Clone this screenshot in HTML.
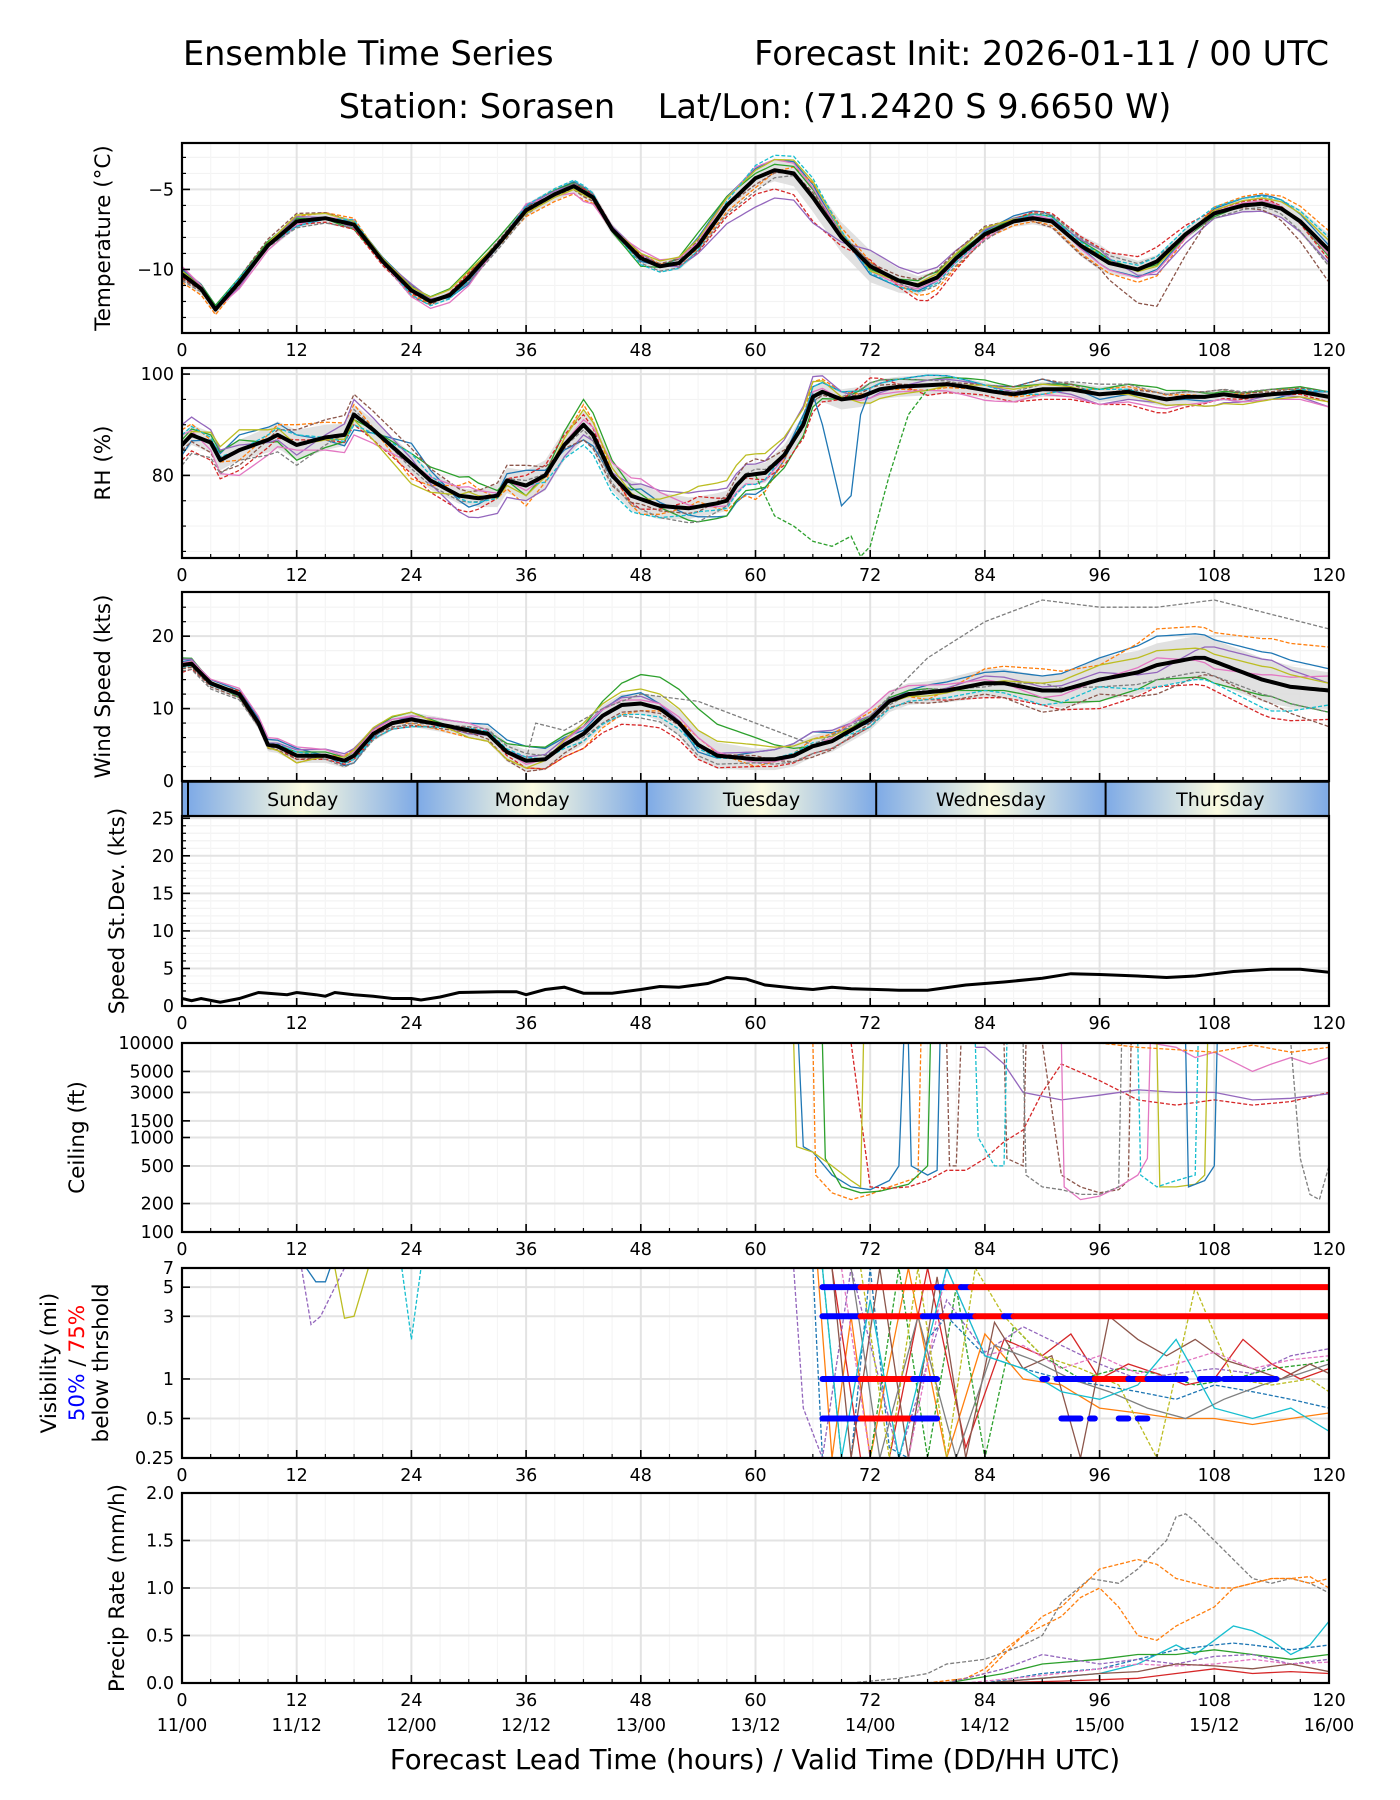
<!DOCTYPE html>
<html><head><meta charset="utf-8">
<style>
html,body{margin:0;padding:0;background:#fff;}
svg{display:block;font-family:"DejaVu Sans","Liberation Sans",sans-serif;}
</style></head>
<body>
<svg id="chart" xmlns="http://www.w3.org/2000/svg" width="1400" height="1800" viewBox="0 0 1400 1800">
<defs>
<linearGradient id="dayGrad" x1="0" x2="1" y1="0" y2="0">
<stop offset="0" stop-color="#7eaae6"/><stop offset="0.5" stop-color="#fbfbe0"/><stop offset="1" stop-color="#7eaae6"/>
</linearGradient>
</defs>
<text x="183" y="65" font-size="33.5">Ensemble Time Series</text>
<text x="1329" y="65" font-size="33.5" text-anchor="end">Forecast Init: 2026-01-11 / 00 UTC</text>
<text x="755" y="118" font-size="33.5" text-anchor="middle">Station: Sorasen&#160;&#160;&#160;&#160;Lat/Lon: (71.2420 S 9.6650 W)</text>
<g id="plots"></g>
</svg>
<script>
// ---------- data ----------
const memHours=[0,6,12,18,24,30,36,42,48,54,60,66,72,78,84,90,96,102,108,114,120];
const tHours=[0,2,3.5,6,9,12,15,18,21,24,26,28,30,33,36,39,41,43,45,48,50,52,54,57,60,62,64,66,69,72,75,77,79,81,84,87,89,91,94,97,100,102,105,108,111,113,115,117,120];
const tMean=[-10.3,-11.2,-12.5,-10.8,-8.5,-7.0,-6.8,-7.2,-9.5,-11.3,-12.0,-11.6,-10.5,-8.5,-6.3,-5.3,-4.8,-5.5,-7.5,-9.3,-9.8,-9.6,-8.5,-6.0,-4.3,-3.8,-4.0,-5.5,-8.0,-9.8,-10.7,-11.0,-10.5,-9.3,-7.8,-7.0,-6.8,-7.0,-8.5,-9.6,-10.0,-9.5,-7.8,-6.5,-6.0,-5.9,-6.2,-7.0,-8.8];
const tSpread=[0.4,0.3,0.4,0.3,0.3,0.3,0.4,0.4,0.3,0.5,0.6,0.9,1.0,0.5,0.3,0.4,0.8,0.4,0.3,0.5,1.0];
const tMemberOffsets=[
[0.3,0.2,-0.3,0.2,0.3,-0.4,0.2,0.3,-0.2,0.5,0.6,0.8,-0.5,-0.3,0.2,0.5,-0.4,-0.5,0.3,0.6,0.3],
[-0.5,-0.2,0.3,0.4,-0.3,0.2,-0.4,-0.5,0.3,-0.2,-0.6,0.9,0.3,-0.8,-0.3,-0.2,-0.6,-0.9,0.4,0.7,1.2],
[0.2,0.3,0.2,-0.3,0.2,0.5,0.3,0.2,-0.5,0.8,0.3,0.5,-0.2,0.4,0.1,0.3,0.3,-0.2,-0.2,0.2,-0.4],
[-0.2,0.1,-0.2,-0.3,-0.2,0.3,-0.2,0.2,0.2,-0.4,-1.0,-1.5,0.4,-1.2,-0.2,0.5,0.6,0.9,0.2,0.3,-0.6],
[0.4,-0.3,0.3,-0.2,0.4,-0.3,0.3,0.1,0.3,-0.5,-1.8,-1.6,1.0,0.7,0.3,0.1,0.5,-0.8,-0.3,-0.5,-0.8],
[-0.3,0.3,0.5,0.2,-0.4,0.2,0.2,-0.3,0.1,0.3,-0.4,0.3,0.2,0.4,0.5,-0.3,-0.7,-2.8,0.2,-0.5,-2.0],
[0.5,-0.4,-0.2,0.3,-0.4,-0.5,0.4,-0.6,0.5,0.2,0.7,0.6,-0.3,-0.2,-0.3,0.2,-0.4,-0.6,0.1,0.2,-0.3],
[-0.4,0.2,-0.4,-0.2,0.3,-0.3,-0.3,0.3,-0.3,-0.3,-0.8,0.2,0.2,-0.5,-0.4,0.4,0.5,0.3,-0.3,-0.2,-1.0],
[0.2,-0.1,0.4,0.2,0.2,0.4,-0.2,-0.2,0.3,0.4,0.5,1.0,-0.3,0.2,0.4,-0.1,0.2,-0.3,0.2,0.4,0.6],
[-0.1,0.3,-0.3,0.3,-0.3,-0.2,0.3,0.4,-0.4,-0.3,0.8,1.2,-0.4,-0.4,-0.1,0.3,0.2,0.3,0.4,0.5,0.8]];

const rHours=[0,1,3,4,6,9,10,12,15,17,18,20,23,26,29,31,33,34,36,38,40,42,43,45,47,50,53,56,57,58,59,61,63,65,66,67,69,71,73,75,80,82,85,87,90,93,96,99,103,105,107,109,111,114,117,120];
const rMean=[86,88,86.5,83,85,87,88,86,87.5,88,92,89,84,79,76,75.5,76,79,78,80,86,90,88,80,76,74,73.5,74.5,75,78,80,80.5,84,90,95.5,96.5,95,95.5,97,97.5,98,97.5,96.5,96,97,97,96,96.5,95,95.5,95.5,96,95.5,96,96.5,95.5];
const rSpread=[2,2,3,2,2,1.5,3,3,3,2,2,2,2,2,1.5,1.5,1.5,1.5,1,1,1];
const rMemberOffsets=[
[-2,3,2,-3,4,-2,3,-3,2,-2,-4,2,1,2,1,2,-1,0,-1,-1,1],
[3,-2,4,2,-3,3,-4,4,-3,1,-5,3,0,-1,0,-1,1,1,0,1,0],
[1,2,-3,-1,2,4,-2,5,1,-3,-3,-2,2,1,2,1,1,2,0.5,1,1],
[-3,-4,1,-2,-2,-3,2,2,-2,2,-1,-3,3,-2,-1,-2,-2,-3,-1,0,-1],
[4,1,-2,3,1,-4,-3,-2,3,3,2,4,-1,1,1,0,-2,-1,-2,0,-2],
[-1,-3,3,4,3,1,4,-3,-1,-1,3,-1,1,0,1,2,0,1,1,0.5,1],
[2,-5,-1,-4,0,2,-1,1,4,0,-2,1,-1,-1,-2,-1,-2,-2,-1,-1,-2],
[-4,-2,-4,1,-1,-1,1,-1,-2,-3,1,-1,2,1,0,1,2,1,1,1,0],
[0,4,0,-1,-4,1,-2,3,0,4,4,3,-2,-1,1,1,0,-1,-2,-1,-1],
[2,0,2,-2,2,-1,0,-4,-3,-1,-2,2,1,2,1,-1,1,0,0,0,1]];
const rOutBlueHours=[63,65,66,67,68,69,70,71,72];
const rOutBlueVals=[84,92,96,90,82,74,76,92,97];
const rOutGreenHours=[60,62,64,66,68,70,71,72,74,76,78];
const rOutGreenVals=[80,72,70,67,66,68,64,66,80,92,97];

const wHours=[0,1,3,5,6,8,9,10,12,15,17,18,20,22,24,27,30,32,34,36,38,40,42,44,46,48,50,52,54,56,60,62,64,66,68,70,72,74,76,80,84,86,88,90,92,96,100,102,104,106,107,110,113,116,120];
const wMean=[16,16.2,13.5,12.5,12,8,5,4.8,3.5,3.5,2.8,3.5,6.5,8,8.5,7.8,7,6.5,4,2.8,3,5,6.5,9,10.5,10.7,10,8,5,3.5,3,3,3.5,4.8,5.5,7,8.5,11,12,12.5,13.5,13.5,13,12.5,12.5,14,15,16,16.5,17,17,15.5,14,13,12.5];
const wSpread=[0.5,0.8,1,1,1,1,1.5,1.5,1.5,2,1.5,1.5,1.5,1.5,2,2,3,3,3,3,2.5];
const wMemberOffsets=[
[0.5,0.5,1,-1,0.5,1,2,0.5,1.5,-1,1,2,-0.5,1,1.5,2,3,4,3,4,3],
[-0.5,0.3,-1,1,-0.5,-1,-1,-2,-1,1,-1,1,1,-1,2,3,2,5,4,6,6],
[1,-0.5,0.5,0.5,1,-0.5,2,1,4,5,3,0,0.5,0.5,-1,-1,-3,-2,-3,-2,-3],
[-1,0.5,-0.5,-0.5,-1,0.5,-1,-2,-3,-2,-1,-1,-1,-1,-2,-2,-4,-3,-4,-5,-4],
[0.8,-0.3,0.8,1,0.3,-0.5,0.5,1,1,0,1,2,0.5,0,1,0.5,1,-1,2,3,1],
[-0.5,-0.5,-0.5,0,-0.8,-0.3,-1.5,-1,-1,0,0.5,-1.5,-0.5,-1.5,-1.5,-3,-2,-4,-2,-3,-5],
[0.3,0.8,1.2,0.5,0.5,1,-0.5,1,0.5,1,-0.5,0,1.5,1,0.5,-1,0,1,-1,1,2],
[-0.8,-0.8,0,-1,-0.5,0.5,1,-0.5,-2,-1.5,-0.5,-1,-1,0.5,-0.5,1,-1,-2,-2,-2,-3],
[0.2,0.2,-1,0.8,1,-1,-1,1.5,2,2,2,1,0,-0.5,0,1,2,2,1,2,1],
[-0.3,-0.2,0.5,-0.5,-1,0.3,0.5,-1,-1.5,-0.5,0,0.5,-1,-1,-1,-2,-1,-3,-3,-4,-2]];
const wOutGrayHours=[36,37,40,44,48,54,60,66,72,78,84,90,96,102,108,114,120];
const wOutGrayVals=[3,8,7,10,12,11,8,5,9,17,22,25,24,24,25,23,21];

const sdHours=[0,1,2,4,6,8,9,11,12,14,15,16,18,20,22,24,25,27,29,33,35,36,38,40,42,45,48,50,52,55,57,59,61,64,66,68,70,75,78,82,86,90,93,96,100,103,106,110,114,117,120];
const sdVals=[1,0.7,1.0,0.5,1.0,1.8,1.7,1.5,1.8,1.5,1.3,1.8,1.5,1.3,1.0,1.0,0.8,1.2,1.8,1.9,1.9,1.5,2.2,2.5,1.7,1.7,2.2,2.6,2.5,3.0,3.8,3.6,2.8,2.4,2.2,2.5,2.3,2.1,2.1,2.8,3.2,3.7,4.3,4.2,4.0,3.8,4.0,4.6,4.9,4.9,4.5];

const ceilHours=[
[64.5,65,66,68,70,72,74,75,75.5],[66,66.3,68,70,72,74,77,77.3],[67,67.3,69,71,73,76,78,78.3],
[70,72,74,76,78,80,82,84,86,88,90,92,96,100,104,108,112,116,120],
[83,84,86,88,92,96,100,104,108,112,116,120],
[80,80.3,81,81.5,86,86.3,88,88.3,90,92,94,96,98,99,99.3],
[92,92.3,94,96,98,100,101,101.3,104,106,108,112,114,116,118,120],
[88,88.3,90,92,94,96,98,98.3,116,117,118,119,120],
[64,64.3,66,68,70,71,71.3,102,102.3,104,106,107,107.3],
[83,83.3,85,86,86.3,100,100.3,102,104,106,106.3],
[76,76.3,78,79,79.3,105,105.3,107,108,108.3],
[96,100,104,108,112,116,120]];
const ceilVals=[
[10000,800,700,400,300,280,350,500,10000],[10000,400,260,220,250,300,380,10000],[10000,600,300,260,270,320,500,10000],
[10000,300,290,300,350,450,450,600,900,1200,3000,6000,4000,2500,2200,2500,2200,2400,3000],
[9000,9000,6000,3000,2500,2800,3200,3000,3000,2500,2600,2900],
[10000,500,500,10000,10000,600,500,10000,10000,400,300,260,280,350,10000],
[10000,300,220,240,300,400,600,10000,9000,7000,8000,5000,6000,7000,6000,7000],
[10000,400,300,280,250,250,300,10000,10000,600,250,220,500],
[10000,800,700,500,350,300,10000,10000,300,300,320,400,10000],
[10000,1000,500,500,10000,10000,400,300,350,400,10000],
[10000,500,400,450,10000,10000,300,350,500,10000],
[10000,9000,8500,8000,9500,8000,9000]];

const visHours=[
[12.5,13.5,14.5,16,17],[16,17,18,19.5],[23,24,25],[13,14,15,15.5],
[66,67,70,72,74,76,78,80,84,88,92,96,100,104,108,112,116,120],
[66.5,68,70,72,76,80,84,88,92,96,100,104,108,112,116,120],
[67,69,72,75,78,81,84,87,90,94,98,102,106,110,114,118,120],
[68,71,74,78,82,86,90,93,96,99,102,105,108,111,114,117,120],
[64,65,67,70,75,80,84,88,92,96,100,104,108,112,116,120],
[68,70,73,76,79,82,85,88,91,94,97,100,103,106,109,112,115,118,120],
[69,72,76,80,84,88,92,96,100,104,108,112,116,120],
[70,73,77,81,85,89,93,97,101,105,109,113,117,120],
[71,74,77,80,83,86,90,94,98,102,106,110,114,118,120],
[67,69,72,75,80,84,88,92,96,100,104,108,112,116,120]];
const visVals=[
[7,2.6,3,5,7],[7,2.9,3,7],[7,2,7],[7,5.5,5.5,7],
[7,0.25,0.25,7,0.3,0.25,2,3,1.5,1.2,1,0.9,0.8,0.7,0.9,0.8,0.7,0.6],
[7,0.25,3,0.25,7,0.25,2.2,1,0.9,0.6,0.55,0.5,0.5,0.45,0.5,0.55],
[7,0.25,0.25,7,0.25,5,0.25,2.5,1.5,1,1.2,1.1,0.9,1,1.2,1.3,1.4],
[7,0.25,0.25,7,0.3,2,1.5,2.2,1,1.3,1.1,0.9,1,2,1.3,1,1.2],
[7,0.6,0.25,7,0.25,4,1.6,2.5,1.8,1.3,1,1.1,1.2,1.1,1.5,1.7],
[7,0.25,7,0.25,6,0.25,2.7,1.2,1.5,0.25,3,2,1.5,2,1.4,1.2,1,1.3,1.1],
[7,0.25,0.25,7,1.5,1.8,1.2,1.5,1.1,1.3,1.6,1.2,1.4,1.5],
[7,0.25,3,0.25,1.8,1.4,1,0.8,0.6,0.5,0.7,0.9,1.1,1.3],
[7,0.25,7,0.25,7,3,1.5,1.2,0.9,0.25,5,1,0.9,1,0.8],
[7,0.25,4,0.25,7,1.5,1.2,0.8,0.7,0.9,2,0.6,0.5,0.6,0.4]];
const visColorIdx=[4,8,9,0,0,1,2,3,4,5,6,7,8,9];

const threshLevels=[5,3,1,0.5];
const threshStarts=[[67,71,79,80,81.5,82.5],[67,71,77.5,79.5,80.5,83,86,87],[67,71,76.5,90,91.5,95.5,99,100,101,106.5,109],[67,71,76.5,92,95,98,100]];
const threshEnds=[[71,79,80,81.5,82.5,120],[71,77.5,79.5,80.5,83,86,87,120],[71,76.5,79,90.5,95.5,99,100,101,105,108.5,114.5],[71,76.5,79,94,95.5,99,101]];
const threshKinds=[['b','r','b','r','b','r'],['b','r','b','r','b','r','b','r'],['b','r','b','b','b','r','b','r','b','b','b'],['b','r','b','b','b','b','b']];

const precipHours=[
[70,75,78,80,84,88,90,92,95,98,100,103,104,105,106,108,110,112,114,116,118,120],
[78,82,84,86,88,90,92,94,96,98,100,102,104,106,108,110,112,114,116,118,120],
[80,84,86,88,90,92,94,96,98,100,102,104,106,108,110,112,114,116,118,120],
[84,90,96,100,104,106,108,110,112,114,116,118,120],
[84,90,96,100,104,108,110,112,116,120],
[80,86,90,96,100,104,108,112,116,120],
[80,86,90,96,100,104,108,112,116,120],
[84,92,100,104,108,112,116,120],
[82,90,96,100,104,108,112,116,120],
[84,90,96,100,104,108,112,116,120]];
const precipVals=[
[0,0.05,0.1,0.2,0.25,0.4,0.5,0.85,1.1,1.05,1.2,1.5,1.75,1.78,1.7,1.5,1.3,1.1,1.05,1.1,1.05,0.95],
[0,0.05,0.15,0.35,0.5,0.7,0.8,1.0,1.2,1.25,1.3,1.25,1.1,1.05,1.0,1.0,1.05,1.1,1.1,1.12,1.0],
[0,0.1,0.3,0.5,0.6,0.7,0.9,1.0,0.8,0.5,0.45,0.6,0.7,0.8,1.0,1.05,1.1,1.1,1.05,1.1],
[0,0.05,0.1,0.2,0.4,0.3,0.45,0.6,0.55,0.45,0.3,0.4,0.65],
[0,0.1,0.15,0.25,0.35,0.4,0.42,0.4,0.35,0.4],
[0,0.1,0.2,0.25,0.3,0.3,0.35,0.3,0.25,0.3],
[0,0.15,0.3,0.2,0.25,0.2,0.28,0.3,0.2,0.25],
[0,0.02,0.05,0.1,0.15,0.1,0.12,0.1],
[0,0.08,0.15,0.2,0.18,0.2,0.25,0.2,0.22],
[0,0.05,0.1,0.12,0.2,0.18,0.15,0.2,0.12]];
const precipColorIdx=[7,1,1,9,0,2,4,3,6,5];

const dayNames=['Sunday','Monday','Tuesday','Wednesday','Thursday'];
const xTickHours=[0,12,24,36,48,60,72,84,96,108,120];
const validLabels=['11/00','11/12','12/00','12/12','13/00','13/12','14/00','14/12','15/00','15/12','16/00'];

// ---------- helpers ----------
const NS='http://www.w3.org/2000/svg';
const root=document.getElementById('plots');
const COLORS=['#1f77b4','#ff7f0e','#2ca02c','#d62728','#9467bd','#8c564b','#e377c2','#7f7f7f','#bcbd22','#17becf'];
const X0=182,X1=1329;
function xS(h){return X0+(h/120)*(X1-X0);}
function mk(tag,attrs,parent){const e=document.createElementNS(NS,tag);for(const k in attrs)e.setAttribute(k,attrs[k]);(parent||root).appendChild(e);return e;}
function interp(xs,ys,x){if(x<=xs[0])return ys[0];for(let i=1;i<xs.length;i++){if(x<=xs[i]){const t=(x-xs[i-1])/(xs[i]-xs[i-1]);return ys[i-1]+t*(ys[i]-ys[i-1]);}}return ys[ys.length-1];}
function linY(top,bot,lo,hi){return v=>bot-(v-lo)/(hi-lo)*(bot-top);}
function logY(top,bot,lo,hi){return v=>bot-(Math.log(v)-Math.log(lo))/(Math.log(hi)-Math.log(lo))*(bot-top);}
function pathD(pts){return pts.map((p,i)=>(i?'L':'M')+p[0].toFixed(1)+','+p[1].toFixed(1)).join('');}

function frame(name,top,bot,yS,majors,labels,minors,yTitle,showXLabels){
  const g=mk('g',{});
  
  
  const clipId='clip-'+name;
  const cp=mk('clipPath',{id:clipId},g);
  mk('rect',{x:X0,y:top,width:X1-X0,height:bot-top},cp);
  minors.forEach(v=>{const y=yS(v);mk('line',{x1:X0,x2:X1,y1:y,y2:y,stroke:'#f3f3f3','stroke-width':1.2},g);});
  for(let h=3;h<120;h+=3){if(h%12)mk('line',{x1:xS(h),x2:xS(h),y1:top,y2:bot,stroke:'#f5f5f5','stroke-width':1.2},g);}
  majors.forEach(v=>{const y=yS(v);mk('line',{x1:X0,x2:X1,y1:y,y2:y,stroke:'#e3e3e3','stroke-width':2},g);});
  xTickHours.forEach(h=>{mk('line',{x1:xS(h),x2:xS(h),y1:top,y2:bot,stroke:'#e3e3e3','stroke-width':2},g);});
  const data=mk('g',{'clip-path':'url(#'+clipId+')'},g);
  
  
  const axes=mk('g',{},g);
  xTickHours.forEach(h=>{mk('line',{x1:xS(h),x2:xS(h),y1:bot,y2:bot-8,stroke:'#000','stroke-width':1.6},axes);});
  for(let h=3;h<120;h+=3){if(h%12)mk('line',{x1:xS(h),x2:xS(h),y1:bot,y2:bot-4,stroke:'#000','stroke-width':1.2},axes);}
  majors.forEach((v,i)=>{const y=yS(v);mk('line',{x1:X0,x2:X0+8,y1:y,y2:y,stroke:'#000','stroke-width':1.6},axes);
    const t=mk('text',{x:X0-8,y:y+6,'font-size':17.5,'text-anchor':'end'},axes);t.textContent=labels[i];
    
    });
  minors.forEach(v=>{const y=yS(v);mk('line',{x1:X0,x2:X0+4,y1:y,y2:y,stroke:'#000','stroke-width':1.2},axes);});
  if(showXLabels){xTickHours.forEach(h=>{const t=mk('text',{x:xS(h),y:bot+23,'font-size':17.5,'text-anchor':'middle'},axes);t.textContent=h;
    
    });}
  mk('rect',{x:X0,y:top,width:X1-X0,height:bot-top,fill:'none',stroke:'#000','stroke-width':2.2},axes);
  if(yTitle){const cy=(top+bot)/2;const t=mk('text',{x:0,y:0,'font-size':21.5,'text-anchor':'middle',transform:'translate('+(yTitle.x)+','+cy+') rotate(-90)'},axes);t.textContent=yTitle.text;
    
    }
  return data;
}
function memberPath(g,meanH,meanV,offs,spreadLo,spreadHi,yS,clampLo,clampHi,name){
  const up=[],dn=[];
  for(let h=0;h<=120;h+=0.5){const m=interp(meanH,meanV,h),s=interp(memHours,spreadLo,h);
    up.push([xS(h),yS(Math.min(clampHi,m+s))]);dn.push([xS(h),yS(Math.max(clampLo,m-s))]);}
  const band=mk('path',{d:pathD(up.concat(dn.reverse()))+'Z',fill:'#d9d9d9','fill-opacity':0.8},g);
  
  
  offs.forEach((off,i)=>{const pts=[];
    for(let h=0;h<=120;h+=0.5){let v=interp(meanH,meanV,h)+interp(memHours,off,h);v=Math.max(clampLo,Math.min(clampHi,v));pts.push([xS(h),yS(v)]);}
    const p=mk('path',{d:pathD(pts),fill:'none',stroke:COLORS[i%10],'stroke-width':1.3,'stroke-dasharray':i%2?'4,2':'none'},g);
    
    
  });
}
function meanLine(g,hs,vs,yS,name){
  const pts=[];for(let h=0;h<=120;h+=0.5)pts.push([xS(h),yS(interp(hs,vs,h))]);
  const p=mk('path',{d:pathD(pts),fill:'none',stroke:'#000','stroke-width':4,'stroke-linejoin':'round'},g);
  
  
}
function simpleLine(g,hs,vs,yS,color,dashed,name,w){
  const p=mk('path',{d:pathD(hs.map((h,i)=>[xS(h),yS(vs[i])])),fill:'none',stroke:color,'stroke-width':w||1.3,'stroke-dasharray':dashed?'4,2':'none'},g);
  
  
}

// ---------- Temperature ----------
(function(){
  const top=143,bot=333,yS=linY(top,bot,-13.97,-2.1);
  const g=frame('temperature',top,bot,yS,[-5,-10],['\u22125','\u221210'],[-3,-4,-6,-7,-8,-9,-11,-12,-13],{x:110,text:'Temperature (\u00b0C)'},true);
  memberPath(g,tHours,tMean,tMemberOffsets,tSpread,tSpread,yS,-20,5,'temperature');
  meanLine(g,tHours,tMean,yS,'temperature');
})();
// ---------- RH ----------
(function(){
  const top=368,bot=558,yS=linY(top,bot,63.7,101.2);
  const g=frame('rh',top,bot,yS,[100,80],['100','80'],[95,90,85,75,70,65],{x:110,text:'RH (%)'},true);
  memberPath(g,rHours,rMean,rMemberOffsets,rSpread,rSpread,yS,60,100,'rh');
  simpleLine(g,rOutBlueHours,rOutBlueVals,yS,COLORS[0],false,'rh-outlier-member');
  simpleLine(g,rOutGreenHours,rOutGreenVals,yS,COLORS[2],true,'rh-outlier-member');
  meanLine(g,rHours,rMean,yS,'rh');
})();
// ---------- Wind ----------
(function(){
  const top=592,bot=781,yS=linY(top,bot,0,26.1);
  const g=frame('wind',top,bot,yS,[0,10,20],['0','10','20'],[2,4,6,8,12,14,16,18,22,24],{x:110,text:'Wind Speed (kts)'},false);
  memberPath(g,wHours,wMean,wMemberOffsets,wSpread,wSpread,yS,0,40,'wind');
  simpleLine(g,wOutGrayHours,wOutGrayVals,yS,COLORS[7],true,'wind-outlier-member');
  meanLine(g,wHours,wMean,yS,'wind');
})();
// ---------- Day band ----------
(function(){
  const g=mk('g',{});
  
  
  const top=782,bot=816;
  mk('rect',{x:X0,y:top,width:X1-X0,height:bot-top,fill:'#7eaae6'},g);
  dayNames.forEach((d,i)=>{
    const x0=188+i*229.4;
    const r=mk('rect',{x:x0,y:top,width:Math.min(229.4,X1-x0),height:bot-top,fill:'url(#dayGrad)'},g);
    
    
    mk('line',{x1:x0,x2:x0,y1:top,y2:bot,stroke:'#000','stroke-width':2},g);
    const t=mk('text',{x:x0+114.7,y:top+24,'font-size':19,'text-anchor':'middle'},g);t.textContent=d;
    
    
  });
  mk('rect',{x:X0,y:top,width:X1-X0,height:bot-top,fill:'none',stroke:'#000','stroke-width':1.5},g);
})();
// ---------- StdDev ----------
(function(){
  const top=816,bot=1006,yS=linY(top,bot,0,25.3);
  const minors=[];for(let v=1;v<25;v++)if(v%5)minors.push(v);
  const g=frame('speed-stdev',top,bot,yS,[0,5,10,15,20,25],['0','5','10','15','20','25'],minors,{x:124,text:'Speed St.Dev. (kts)'},true);
  simpleLine(g,sdHours,sdVals,yS,'#000',false,'speed-stdev-line',3);
})();
// ---------- Ceiling ----------
(function(){
  const top=1043,bot=1232,yS=logY(top,bot,100,10000);
  const g=frame('ceiling',top,bot,yS,[10000,5000,3000,1500,1000,500,200,100],['10000','5000','3000','1500','1000','500','200','100'],[],{x:84,text:'Ceiling (ft)'},true);
  ceilHours.forEach((hs,i)=>simpleLine(g,hs,ceilVals[i],yS,COLORS[i%10],i%2===1,'ceiling-member-line'));
})();
// ---------- Visibility ----------
(function(){
  const top=1268,bot=1458,yS=logY(top,bot,0.25,7);
  const g=frame('visibility',top,bot,yS,[7,5,3,1,0.5,0.25],['7','5','3','1','0.5','0.25'],[],null,true);
  visHours.forEach((hs,i)=>simpleLine(g,hs,visVals[i],yS,COLORS[visColorIdx[i]],i%2===0,'visibility-member-line'));
  threshLevels.forEach((lv,li)=>{
    threshStarts[li].forEach((s,j)=>{
      const y=yS(lv);
      const l=mk('line',{x1:xS(s),x2:xS(threshEnds[li][j]),y1:y,y2:y,stroke:threshKinds[li][j]==='b'?'#0000ff':'#ff0000','stroke-width':6,'stroke-linecap':'round'},g);
      
      
    });
  });
  const cy=(top+bot)/2;
  const t1=mk('text',{'font-size':21.5,'text-anchor':'middle',transform:'translate(56,'+cy+') rotate(-90)'});t1.textContent='Visibility (mi)';
  
  
  const t2=mk('text',{'font-size':21.5,'text-anchor':'middle',transform:'translate(84,'+cy+') rotate(-90)'});
  
  
  t2.innerHTML='<tspan fill="#0000ff">50%</tspan> / <tspan fill="#ff0000">75%</tspan>';
  const t3=mk('text',{'font-size':21.5,'text-anchor':'middle',transform:'translate(108,'+cy+') rotate(-90)'});t3.textContent='below thrshold';
  
  
})();
// ---------- Precip ----------
(function(){
  const top=1493,bot=1683,yS=linY(top,bot,0,2.0);
  const g=frame('precip',top,bot,yS,[0,0.5,1.0,1.5,2.0],['0.0','0.5','1.0','1.5','2.0'],[],{x:124,text:'Precip Rate (mm/h)'},true);
  precipHours.forEach((hs,i)=>simpleLine(g,hs,precipVals[i],yS,COLORS[precipColorIdx[i]],i<3||i%2===0,'precip-member-line'));
  xTickHours.forEach((h,i)=>{const t=mk('text',{x:xS(h),y:1731,'font-size':17.5,'text-anchor':'middle'});t.textContent=validLabels[i];
    
    });
  const t=mk('text',{x:755,y:1769,'font-size':27.5,'text-anchor':'middle'});t.textContent='Forecast Lead Time (hours) / Valid Time (DD/HH UTC)';
  
  
})();
</script>
</body></html>
